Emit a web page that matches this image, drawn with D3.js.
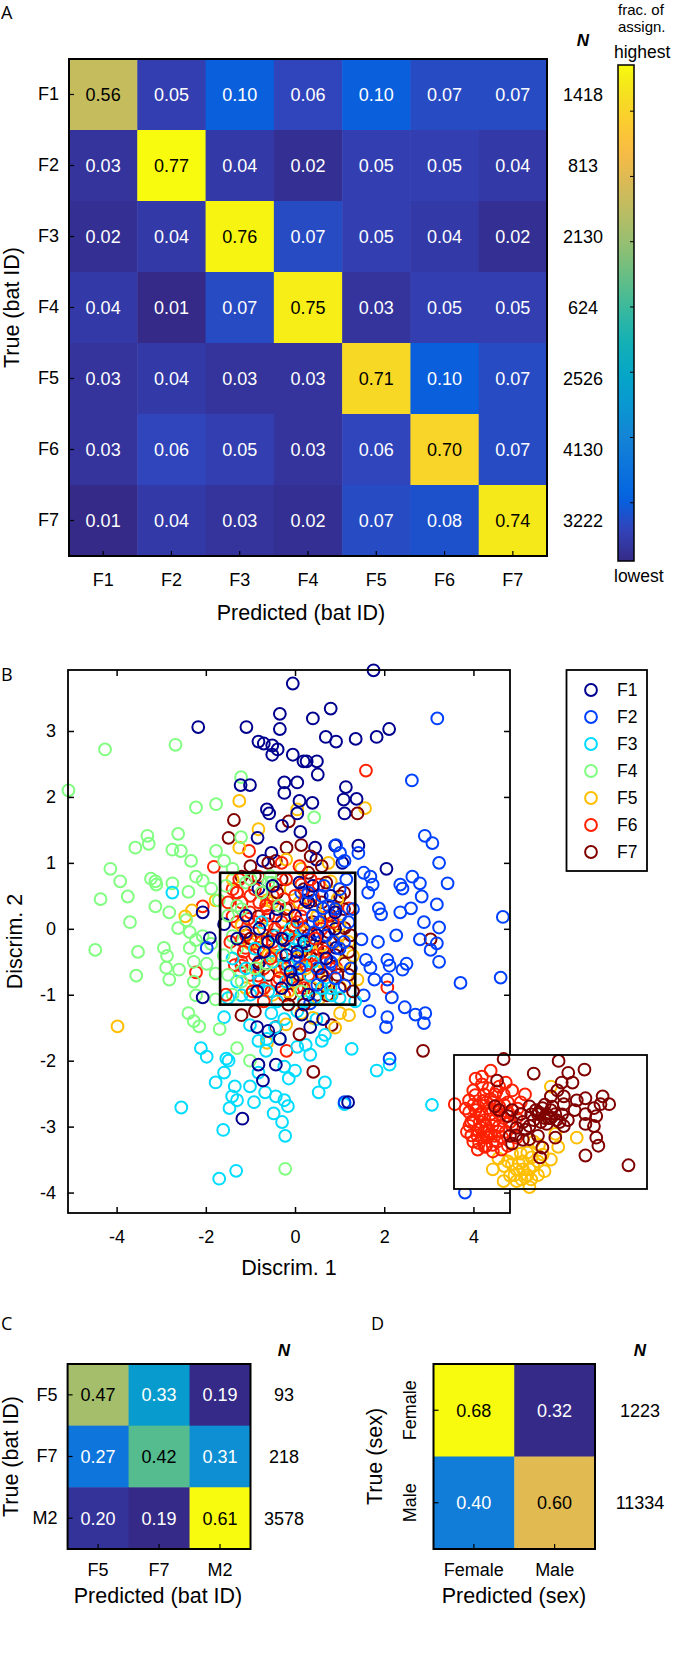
<!DOCTYPE html>
<html><head><meta charset="utf-8">
<script src="https://cdn.jsdelivr.net/npm/d3@7"></script>
<style>
body{margin:0;background:#fff}
svg{display:block}
text{font-family:"Liberation Sans",Arial,Helvetica,sans-serif;fill:#000}
</style></head>
<body><svg id="c" width="675" height="1669"></svg>
<script>
// ---------------- DATA ----------------
const batIds = ["F1","F2","F3","F4","F5","F6","F7"];
const matA = [
  [0.56,0.05,0.10,0.06,0.10,0.07,0.07],
  [0.03,0.77,0.04,0.02,0.05,0.05,0.04],
  [0.02,0.04,0.76,0.07,0.05,0.04,0.02],
  [0.04,0.01,0.07,0.75,0.03,0.05,0.05],
  [0.03,0.04,0.03,0.03,0.71,0.10,0.07],
  [0.03,0.06,0.05,0.03,0.06,0.70,0.07],
  [0.01,0.04,0.03,0.02,0.07,0.08,0.74]
];
const nA = [1418,813,2130,624,2526,4130,3222];

const idsC = ["F5","F7","M2"];
const matC = [[0.47,0.33,0.19],[0.27,0.42,0.31],[0.20,0.19,0.61]];
const nC = [93,218,3578];

const sexes = ["Female","Male"];
const matD = [[0.68,0.32],[0.40,0.60]];
const nD = [1223,11334];

const bTicksX = [-4,-2,0,2,4];
const bTicksY = [-4,-3,-2,-1,0,1,2,3];
const cbTicks = [0.1,0.2,0.3,0.4,0.5,0.6,0.7];
const classColors = ["#00008f","#0040ff","#00dcff","#80ff80","#ffbf00","#ff2000","#800000"];

const ptsF1 = [[1.76,3.92],[-0.05,3.72],[-2.17,3.06],[-1.09,3.06],[-0.34,3.26],[-0.34,3.03],[0.40,3.19],[0.80,3.34],[0.69,2.91],[0.92,2.84],[1.36,2.88],[1.83,2.91],[2.11,3.03],[-0.82,2.84],[-0.70,2.81],[-0.51,2.78],[-0.39,2.72],[-0.51,2.64],[-0.05,2.64],[0.19,2.54],[0.26,2.54],[0.49,2.54],[0.51,2.34],[-1.22,2.18],[-1.01,2.18],[-0.24,2.22],[0.05,2.22],[-0.24,2.06],[1.14,2.15],[1.09,1.96],[1.38,1.97],[1.11,1.75],[0.39,1.91],[0.10,1.94],[0.05,1.75],[-0.63,1.81],[-0.58,1.75],[-0.29,1.56],[0.12,1.47],[-0.84,1.38],[-0.53,1.15],[-0.72,1.03],[0.45,1.23],[0.90,1.26],[1.42,1.26],[0.48,1.05],[1.06,1.00],[2.05,0.91],[-2.07,0.25],[-1.91,-0.14],[-1.59,0.07],[-0.82,0.61],[-0.43,0.19],[0.24,0.43],[0.34,-0.17],[0.67,-0.11],[0.92,-0.29],[-1.11,-0.05],[-0.24,-0.17],[-0.82,-0.53],[-2.07,-1.04],[-0.85,-1.49],[0.34,-1.49],[-0.34,-1.67],[-0.82,-2.06],[-0.43,-2.06],[-0.72,-2.30],[-1.18,-2.88],[1.19,-2.63],[-0.05,-0.77],[0.63,-1.37],[-0.4,0.3],[0.0,0.2],[0.3,0.4],[-0.6,-0.2],[0.5,-0.1],[-0.2,-0.4],[0.8,0.5],[0.2,-0.2],[-0.8,0.0],[0.6,-0.7],[-0.3,-0.9],[0.9,0.0],[0.1,0.7],[-1.1,0.2],[-0.7,-0.35],[-0.3,-0.15],[0.05,-0.35],[0.4,0.65],[0.7,-0.45],[-0.5,0.65],[-1.3,-0.15],[0.9,0.25],[-0.1,-0.65],[0.3,-1.0],[-0.85,-0.95],[0.15,-1.3],[-0.6,-1.55]];
const ptsF2 = [[3.19,3.19],[2.62,2.25],[2.91,1.41],[3.08,1.30],[3.23,1.00],[3.42,0.69],[2.80,0.69],[2.36,0.67],[2.41,0.61],[2.63,0.79],[2.84,0.49],[3.18,0.37],[1.88,0.31],[1.93,0.22],[2.36,0.25],[2.60,0.31],[2.89,0.10],[3.23,0.02],[2.27,-0.10],[2.80,-0.16],[3.18,-0.22],[3.04,-0.32],[1.86,-0.20],[3.23,-0.50],[1.49,-0.16],[1.59,-0.47],[1.69,-0.59],[2.07,-0.47],[2.12,-0.56],[2.50,-0.53],[2.41,-0.62],[2.07,-0.77],[3.71,-0.82],[4.61,-0.74],[4.66,0.18],[1.54,-1.01],[2.17,-1.04],[2.46,-1.19],[2.70,-1.30],[2.92,-1.28],[2.89,-1.43],[2.07,-1.34],[2.04,-1.49],[1.67,-1.25],[2.12,-1.97],[3.81,-4.00],[0.92,1.27],[1.01,1.15],[1.42,1.15],[1.11,1.03],[1.54,0.85],[1.69,0.79],[1.74,0.67],[1.64,0.55],[0.14,0.55],[0.63,0.31],[1.01,0.19],[0.43,-0.05],[0.82,-0.53],[0.05,-0.41],[1.11,-0.86],[0.34,-1.13],[-1.98,-0.29],[1.11,-2.63],[1.78,-0.77],[0.4,0.2],[0.7,-0.1],[0.9,0.3],[1.1,-0.2],[0.6,0.5],[0.2,0.0],[0.8,-0.5],[1.2,0.1],[0.5,-0.6],[0.0,-0.5],[1.0,0.6],[0.3,0.55],[0.55,0.1],[0.75,0.35],[1.0,-0.3],[1.15,0.75],[1.3,0.3],[0.9,-0.75],[0.5,-0.85],[0.1,-0.6],[0.65,0.65],[1.25,-0.6],[0.85,-0.2]];
const ptsF3 = [[-2.55,-2.71],[-2.11,-1.81],[-1.98,-1.94],[-1.54,-1.97],[-1.49,-2.00],[-1.78,-2.33],[-1.59,-2.18],[-1.35,-2.39],[-1.41,-2.54],[-1.47,-2.72],[-1.30,-2.60],[-1.61,-3.05],[-0.92,-2.63],[-0.67,-2.48],[-0.43,-2.54],[-0.24,-2.60],[-0.16,-2.69],[-0.48,-2.80],[-0.29,-2.93],[-0.22,-3.14],[-1.01,-2.39],[-0.82,-2.18],[-0.24,-2.09],[0.00,-2.15],[-0.14,-2.27],[0.53,-2.48],[0.67,-2.33],[1.11,-2.66],[1.27,-1.82],[1.83,-2.15],[2.12,-2.06],[3.07,-2.67],[-1.70,-3.79],[-1.32,-3.67],[-0.82,-1.70],[-0.63,-1.67],[-0.34,-1.67],[0.05,-1.79],[0.24,-1.76],[0.34,-1.91],[0.67,-1.61],[-1.01,-1.46],[-0.53,-1.28],[-0.24,-1.37],[0.05,-1.25],[0.48,-1.37],[-0.43,-0.11],[-0.24,-0.23],[0.05,-0.44],[0.14,-0.59],[0.34,-0.71],[-0.82,-0.77],[-1.20,-1.01],[-1.59,-1.34],[1.35,-1.10],[0.82,-1.01],[-2.75,0.55],[-0.5,-0.5],[-0.2,-0.8],[0.1,-0.2],[0.4,-0.5],[-0.8,-0.8],[-1.0,-1.0],[0.2,-1.1],[-0.4,-1.1],[0.6,-0.9],[-0.1,0.0],[-1.3,-0.8],[0.8,-0.9],[-1.4,-0.45],[-1.1,-0.6],[-0.6,-0.95],[-0.3,-0.4],[0.0,-0.15],[0.25,-0.25],[-0.15,-0.55],[-0.9,-0.3],[0.45,-1.05],[-1.5,-1.05],[-0.75,0.1],[1.0,-1.05],[-0.45,-1.5],[0.6,-1.7],[-0.65,-1.85]];
const ptsF4 = [[-5.08,2.10],[-4.26,2.72],[-2.68,2.79],[-2.22,1.84],[-1.77,1.89],[-1.21,2.30],[-3.31,1.41],[-3.28,1.29],[-3.58,1.23],[-2.62,1.44],[-2.75,1.20],[-2.56,1.18],[-2.33,1.03],[-1.77,1.18],[-1.59,1.03],[-4.14,0.91],[-3.92,0.72],[-4.36,0.45],[-3.75,0.49],[-3.23,0.76],[-3.13,0.72],[-3.11,0.67],[-2.75,0.69],[-2.39,0.56],[-2.22,0.79],[-2.07,0.73],[-1.88,0.61],[-1.71,0.43],[-3.13,0.34],[-2.82,0.25],[-3.70,0.10],[-2.62,0.01],[-2.44,0.13],[-2.36,-0.05],[-2.22,-0.17],[-4.48,-0.32],[-3.52,-0.35],[-2.94,-0.29],[-2.87,-0.41],[-2.36,-0.29],[-2.07,-0.11],[-1.88,-0.23],[-2.89,-0.59],[-2.60,-0.62],[-2.27,-0.50],[-1.98,-0.53],[-3.56,-0.71],[-2.82,-0.77],[-2.27,-0.80],[-1.78,-0.68],[-2.22,-1.01],[-1.78,-1.07],[-2.39,-1.28],[-2.27,-1.40],[-2.15,-1.48],[-1.69,-1.52],[-1.30,-1.81],[-1.01,-2.00],[-0.22,-3.64],[-0.53,0.70],[0.43,1.69],[-1.40,0.91],[-1.21,1.39],[-1.40,-0.11],[-1.21,-0.65],[-0.63,-0.53],[0.14,-0.95],[-1.5,0.2],[-1.3,-0.3],[-1.5,-0.7],[-1.1,0.7],[-0.9,-0.6],[-0.6,0.7],[-1.4,-1.0],[-1.2,0.3],[-1.55,0.65],[-1.3,0.35],[-1.0,0.75],[-0.75,0.55],[-1.6,-0.4],[-0.35,0.35],[-1.2,-0.8],[-0.55,0.8]];
const ptsF5 = [[-3.98,-1.48],[-1.25,1.94],[1.57,1.83],[0.05,1.81],[-0.82,1.51],[-1.25,1.23],[0.80,0.72],[-2.46,0.19],[-2.31,0.28],[-0.63,0.43],[0.14,0.91],[-0.24,-0.05],[0.72,0.07],[0.05,-0.71],[0.53,-0.65],[1.01,-0.89],[1.21,-1.31],[1.01,-1.28],[0.14,-1.28],[-0.63,-1.73],[0.53,-1.07],[-0.53,-0.41],[1.30,-0.41],[-1.01,-0.23],[1.40,-0.77],[-1.78,0.43],[-0.9,-0.2],[-0.6,-0.4],[-0.3,-0.6],[0.0,-0.8],[0.3,-0.3],[0.6,-0.5],[0.9,-0.2],[-0.2,0.2],[0.1,0.4],[-0.7,0.0],[0.4,-0.9],[0.8,-1.0],[-1.1,-0.9],[1.1,-0.5],[0.0,0.0],[-0.5,-1.0],[0.5,0.2],[-1.2,0.05],[-0.85,-0.6],[-0.4,-0.25],[-0.1,0.6],[0.2,-0.05],[0.45,0.35],[0.7,-0.85],[1.0,0.05],[1.2,-0.2],[-0.5,0.4],[0.25,-0.6],[-0.15,-0.95],[0.6,-0.25],[0.95,0.45],[-1.4,0.75],[0.05,-0.45],[0.4,-1.35],[0.9,-1.5],[-0.2,-1.45],[-0.2,1.05],[0.75,1.0]];
const ptsF6 = [[1.59,2.40],[-1.03,1.18],[-1.82,0.94],[-2.07,0.34],[-2.22,-0.66],[-0.82,0.79],[-1.30,0.55],[-1.01,0.25],[-1.20,-0.17],[-0.63,0.07],[-0.82,-0.29],[-0.43,-0.41],[-0.34,-0.65],[-0.82,-0.71],[0.14,-0.11],[0.34,0.07],[0.72,-0.29],[0.92,-0.59],[-0.14,0.31],[-0.43,0.67],[0.14,0.67],[0.53,0.67],[1.21,0.31],[0.05,-0.89],[-0.24,-1.01],[2.07,-0.89],[-1.11,-0.29],[-0.63,0.31],[-0.43,-0.29],[0.34,-0.41],[0.63,-0.71],[-1.20,-0.56],[0.14,0.19],[-0.53,-0.95],[0.72,0.19],[-0.19,-1.85],[-1.40,0.19],[-1.4,0.6],[-1.2,0.4],[-1.0,0.5],[-0.8,0.4],[-1.3,0.1],[-1.1,-0.1],[-0.9,-0.4],[-0.7,-0.6],[-0.5,-0.2],[-0.3,0.1],[-0.1,-0.3],[0.1,-0.5],[0.3,-0.7],[0.5,-0.4],[0.2,0.3],[-0.6,0.2],[-0.4,-0.8],[-1.0,-0.7],[-1.2,-0.5],[0.0,0.5],[0.6,0.0],[-0.2,-0.6],[0.4,0.5],[-0.9,0.1],[-0.5,0.5],[0.8,-0.6],[-0.7,-0.9],[0.2,-0.9],[-1.5,0.4],[-1.45,-0.2],[-1.35,-0.55],[-1.25,0.75],[-1.15,-0.35],[-1.05,0.15],[-0.95,-0.95],[-0.9,0.6],[-0.75,-0.2],[-0.65,0.35],[-0.55,-0.45],[-0.45,0.0],[-0.35,-0.75],[-0.25,0.45],[-0.15,-0.1],[0.05,0.1],[0.25,-0.55],[0.45,-0.15],[0.65,-0.35],[0.85,0.1],[-1.55,-1.0],[-0.7,-1.1],[-1.3,0.55],[-0.2,0.75],[0.35,0.75],[-0.3,1.0],[0.1,0.95]];
const ptsF7 = [[-1.37,1.65],[-1.49,1.38],[-0.19,1.23],[1.40,1.75],[0.41,-2.17],[2.87,-1.85],[3.04,-0.16],[-1.20,-1.31],[-0.43,-1.49],[0.82,-1.46],[-0.05,-0.77],[1.01,0.49],[0.92,0.31],[1.11,0.01],[-1.20,0.79],[-0.72,0.55],[-0.43,1.03],[0.43,0.43],[0.24,-0.41],[-0.63,-0.17],[-0.24,-0.53],[0.63,-0.29],[1.11,-0.53],[0.34,-0.89],[-0.82,0.19],[0.72,-1.01],[0.14,1.27],[-0.14,1.63],[0.6,0.4],[0.8,0.2],[1.0,-0.1],[0.5,-0.3],[0.3,-0.1],[0.0,-0.2],[-0.3,-0.4],[0.9,-0.4],[0.7,-0.8],[1.2,-0.7],[0.4,0.1],[-0.2,0.3],[-0.5,-0.1],[0.1,-0.7],[1.1,0.3],[0.5,-1.0],[-0.8,-0.5],[0.2,0.6],[1.0,-0.9],[-0.1,-1.0],[-0.9,0.8],[-0.3,0.75],[0.3,0.85],[0.7,0.7],[1.1,0.55],[1.25,-0.1],[1.2,-0.35],[0.95,-0.7],[0.55,-0.6],[0.15,-0.35],[-0.05,0.05],[-0.6,-0.7],[-1.0,-0.15],[0.75,-0.05],[1.3,-0.95],[0.2,-1.15],[-0.4,0.55],[0.6,0.95],[-0.15,-1.15],[0.1,-1.6],[-0.9,-1.25],[-0.6,1.0],[0.35,1.1],[-1.0,0.95]];

// inset (separate discriminant space, own units)
const insetF5 = [[2.01,1.03],[2.57,0.41],[3.24,1.03],[3.57,1.44],[3.91,0.10],[3.01,1.85],[3.46,1.85],[3.91,1.03],[4.35,0.72],[4.35,1.44],[5.02,1.54],[4.69,0.93],[3.68,0.62],[3.24,0.41],[6.36,2.68],[5.25,2.88],[5.02,5.35],[4.13,2.47],[2.79,1.44],[3.57,1.03],[4.02,1.65],[3.35,1.34],[3.80,0.72],[3.13,0.72],[2.3,1.6],[2.6,1.2],[3.0,1.3],[3.8,1.9],[4.1,1.2],[4.6,1.8],[2.9,0.7],[3.5,0.5],[4.0,0.5],[4.4,2.3],[5.4,2.2]];
const insetF6 = [[1.90,6.18],[1.45,5.46],[1.00,5.15],[0.78,4.63],[0.04,4.43],[0.78,4.01],[1.00,3.60],[1.23,3.09],[1.00,2.47],[1.23,2.06],[1.45,2.68],[1.67,3.29],[1.90,3.91],[1.67,4.53],[2.12,4.94],[2.34,5.35],[2.57,4.94],[2.79,4.53],[3.01,5.15],[2.68,5.56],[1.56,4.94],[1.90,2.88],[2.23,2.47],[2.34,3.29],[2.68,2.99],[2.57,3.71],[2.12,3.60],[1.45,3.91],[1.79,4.22],[1.23,4.32],[3.01,3.29],[3.24,3.71],[3.46,4.53],[3.68,4.94],[1.45,5.87],[1.12,5.76],[2.01,1.96],[1.67,2.26],[2.46,2.06],[2.79,2.26],[0.89,3.50],[1.34,3.50],[1.12,4.12],[2.01,4.53],[2.34,4.32],[1.56,2.99],[2.12,2.78],[1.79,5.25],[0.67,2.99],[3.24,2.68],[0.9,2.8],[1.3,2.4],[1.7,2.7],[2.0,3.3],[2.4,3.9],[1.6,3.6],[1.3,3.9],[1.0,4.4],[1.5,4.6],[2.2,4.1],[2.8,4.0],[2.5,2.7],[1.8,3.0],[2.0,2.3],[1.4,3.2],[2.3,3.0],[1.9,4.7],[2.6,4.4],[1.2,2.8],[0.8,3.3],[2.9,3.5],[1.6,2.2],[2.2,5.1],[3.3,4.2],[0.6,4.2],[1.1,4.9]];
const insetF7 = [[2.57,6.79],[2.23,5.66],[4.13,6.03],[5.42,6.69],[6.76,6.24],[5.92,6.07],[5.58,5.56],[6.14,5.56],[5.36,5.15],[5.69,4.84],[5.02,4.84],[6.36,4.63],[6.81,4.74],[7.70,4.84],[7.59,4.43],[8.04,4.43],[7.25,4.22],[6.81,3.91],[7.37,3.81],[6.25,4.12],[5.69,4.43],[5.02,4.12],[4.58,4.22],[4.35,3.91],[4.69,3.71],[5.25,3.91],[5.47,3.50],[4.80,3.40],[4.13,3.60],[3.91,3.29],[3.57,3.50],[3.24,3.19],[3.01,4.12],[2.79,3.81],[2.34,4.12],[2.12,4.32],[2.90,2.78],[3.01,2.37],[3.57,2.57],[4.35,2.78],[4.58,2.16],[4.46,1.65],[5.25,2.68],[5.69,3.29],[6.81,3.40],[7.25,3.29],[7.37,2.68],[7.48,2.26],[6.81,1.75],[9.04,1.24],[3.91,4.32],[3.46,3.91],[4.80,3.91],[4.24,4.12],[5.02,3.71],[4.5,3.5],[4.9,3.7],[5.3,3.6],[4.4,4.0],[4.0,3.9],[5.1,4.3],[4.7,4.4],[3.7,3.1],[5.6,3.9],[3.2,2.8],[3.9,2.6],[5.9,3.6]];

// ---------------- COLORMAP (parula) ----------------
const parulaRGB = [[0.2081,0.1663,0.5292],[0.1959,0.2645,0.7279],[0.0117,0.3875,0.8820],[0.0498,0.4586,0.8641],[0.0793,0.5200,0.8312],[0.0343,0.5966,0.8199],[0.0228,0.6535,0.7768],[0.0843,0.6928,0.7062],[0.2178,0.7250,0.6193],[0.3953,0.7459,0.5244],[0.5709,0.7485,0.4494],[0.7184,0.7411,0.3905],[0.8507,0.7299,0.3360],[0.9739,0.7314,0.2666],[0.9880,0.8066,0.1794],[0.9626,0.8705,0.1309],[0.9661,0.9514,0.0755],[0.9763,0.9831,0.0538]];
const parulaPos = [0,4,8,12,16,20,24,28,32,36,40,44,48,52,56,59,62,63].map(i=>i/63);
const parula = d3.scaleLinear().domain(parulaPos)
  .range(parulaRGB.map(c=>d3.rgb(c[0]*255,c[1]*255,c[2]*255).toString()))
  .interpolate(d3.interpolateRgb).clamp(true);

const svg = d3.select("#c");
const FS = 18, TFS = 21.5, MR = 5.9, MSW = 2;

function panelLabel(t,x,y){
  svg.append("text").attr("x",x).attr("y",y).text(t)
    .style("font-family","'Open Sans',sans-serif").style("font-size","18px");
}

function heatmap(o){
  const g = svg.append("g");
  const sx = d3.scaleBand().domain(o.cols).range([o.x0,o.x1]);
  const sy = d3.scaleBand().domain(o.rows).range([o.y0,o.y1]);
  const vals = o.values.flat();
  const vmin = d3.min(vals), vmax = d3.max(vals);
  const norm = d3.scaleLinear().domain([vmin,vmax]).range([0,1]);
  o.rows.forEach((r,i)=>{
    o.cols.forEach((c,j)=>{
      const v = o.values[i][j];
      g.append("rect").attr("x",sx(c)).attr("y",sy(r))
        .attr("width",sx.bandwidth()+0.5).attr("height",sy.bandwidth()+0.5)
        .attr("fill",parula(norm(v)));
      g.append("text").attr("x",sx(c)+sx.bandwidth()/2).attr("y",sy(r)+sy.bandwidth()/2)
        .attr("dy","0.36em").attr("text-anchor","middle")
        .style("font-size",FS+"px").style("fill",norm(v)>0.5?"#000":"#fff")
        .text(v.toFixed(2));
    });
  });
  g.append("rect").attr("x",o.x0).attr("y",o.y0).attr("width",o.x1-o.x0).attr("height",o.y1-o.y0)
    .attr("fill","none").attr("stroke","#000").attr("stroke-width",2);
  const ax = g.append("g").attr("transform",`translate(0,${o.y1})`)
    .call(d3.axisBottom(sx).tickSize(-5).tickPadding(o.xPad));
  ax.select(".domain").remove();
  ax.selectAll("text").style("font-size",FS+"px");
  const ay = g.append("g").attr("transform",`translate(${o.x0},0)`)
    .call(d3.axisLeft(sy).tickSize(-5).tickPadding(o.yPad));
  ay.select(".domain").remove();
  ay.selectAll("text").style("font-size",FS+"px");
  if(o.rotateRows){
    ay.selectAll("text").remove();
    o.rows.forEach(r=>{
      g.append("text").attr("transform",`translate(${o.rowLabelX},${sy(r)+sy.bandwidth()/2}) rotate(-90)`)
        .attr("text-anchor","middle").style("font-size",FS+"px").text(r);
    });
  }
  g.selectAll(".tick line").attr("stroke","#000").attr("stroke-width",1.2);
  g.append("text").attr("x",o.nX).attr("y",o.nHeaderY).attr("text-anchor","middle")
    .style("font-size","17px").style("font-weight","bold").style("font-style","italic").text("N");
  o.rows.forEach((r,i)=>{
    g.append("text").attr("x",o.nX).attr("y",sy(r)+sy.bandwidth()/2).attr("dy","0.36em")
      .attr("text-anchor","middle").style("font-size",FS+"px").text(o.N[i]);
  });
  g.append("text").attr("x",o.xTitleX).attr("y",o.xTitleY).attr("text-anchor","middle")
    .style("font-size",TFS+"px").text(o.xTitle);
  g.append("text").attr("transform",`translate(${o.yTitleX},${(o.y0+o.y1)/2}) rotate(-90)`)
    .attr("text-anchor","middle").attr("dy","0.36em").style("font-size",TFS+"px").text(o.yTitle);
  return {vmin,vmax};
}

// ---------------- PANEL A ----------------
panelLabel("A",1,19);
const rA = heatmap({rows:batIds, cols:batIds, values:matA, N:nA,
  x0:69,x1:547,y0:59,y1:556, xPad:17, yPad:10,
  nX:583, nHeaderY:46, xTitle:"Predicted (bat ID)", xTitleX:301, xTitleY:620,
  yTitle:"True (bat ID)", yTitleX:11});

// colorbar
const cb = {x0:618,x1:634,y0:65,y1:561};
const defs = svg.append("defs");
const grad = defs.append("linearGradient").attr("id","cbg").attr("x1",0).attr("y1",1).attr("x2",0).attr("y2",0);
d3.range(0,1.0001,0.02).forEach(t=>grad.append("stop").attr("offset",t).attr("stop-color",parula(t)));
svg.append("rect").attr("x",cb.x0).attr("y",cb.y0).attr("width",cb.x1-cb.x0).attr("height",cb.y1-cb.y0)
  .attr("fill","url(#cbg)").attr("stroke","#000").attr("stroke-width",1.5);
const cbScale = d3.scaleLinear().domain([rA.vmin,rA.vmax]).range([cb.y1,cb.y0]);
const cbAx = svg.append("g").attr("transform",`translate(${cb.x1},0)`)
  .call(d3.axisRight(cbScale).tickValues(cbTicks).tickSize(-4).tickFormat(""));
cbAx.select(".domain").remove();
cbAx.selectAll("line").attr("stroke","#000");
svg.append("text").attr("x",618).attr("y",15).style("font-size","15px").text("frac. of");
svg.append("text").attr("x",618).attr("y",32).style("font-size","15px").text("assign.");
svg.append("text").attr("x",614).attr("y",58).style("font-size","17.5px").text("highest");
svg.append("text").attr("x",614).attr("y",582).style("font-size","17.5px").text("lowest");

// ---------------- PANEL B ----------------
panelLabel("B",1,681);
const B = {x0:68,x1:510,y0:670,y1:1213};
const bx = d3.scaleLinear().domain([-5.09,4.82]).range([B.x0,B.x1]);
const by = d3.scaleLinear().domain([-4.31,3.925]).range([B.y1,B.y0]);
const gB = svg.append("g");
const allPts = [ptsF1,ptsF2,ptsF3,ptsF4,ptsF5,ptsF6,ptsF7];
const maxLen = d3.max(allPts,a=>a.length);
const drawList = [];
for(let i=0;i<maxLen;i++){
  [3,2,1,0,4,5,6].forEach(k=>{ if(i<allPts[k].length) drawList.push({p:allPts[k][i],k}); });
}
gB.selectAll("circle.pt").data(drawList).join("circle").attr("class","pt")
  .attr("cx",d=>bx(d.p[0])).attr("cy",d=>by(d.p[1])).attr("r",MR)
  .attr("fill","none").attr("stroke",d=>classColors[d.k]).attr("stroke-width",MSW);
gB.append("rect").attr("x",bx(-1.68)).attr("y",by(0.85))
  .attr("width",bx(1.35)-bx(-1.68)).attr("height",by(-1.15)-by(0.85))
  .attr("fill","none").attr("stroke","#000").attr("stroke-width",2.6);
gB.append("rect").attr("x",B.x0).attr("y",B.y0).attr("width",B.x1-B.x0).attr("height",B.y1-B.y0)
  .attr("fill","none").attr("stroke","#000").attr("stroke-width",1.8);
const axB = gB.append("g").attr("transform",`translate(0,${B.y1})`)
  .call(d3.axisBottom(bx).tickValues(bTicksX).tickSize(-6).tickPadding(17).tickFormat(d3.format("d")));
const axT = gB.append("g").attr("transform",`translate(0,${B.y0})`)
  .call(d3.axisTop(bx).tickValues(bTicksX).tickSize(-6).tickFormat(""));
const axL = gB.append("g").attr("transform",`translate(${B.x0},0)`)
  .call(d3.axisLeft(by).tickValues(bTicksY).tickSize(-6).tickPadding(12).tickFormat(d3.format("d")));
const axR = gB.append("g").attr("transform",`translate(${B.x1},0)`)
  .call(d3.axisRight(by).tickValues(bTicksY).tickSize(-6).tickFormat(""));
[axB,axT,axL,axR].forEach(a=>{a.select(".domain").remove();a.selectAll("line").attr("stroke","#000").attr("stroke-width",1.5);a.selectAll("text").style("font-size","18px");});
axB.selectAll("text").text(d=>d<0?"-"+Math.abs(d):d);
axL.selectAll("text").text(d=>d<0?"-"+Math.abs(d):d);
svg.append("text").attr("x",(B.x0+B.x1)/2).attr("y",1275).attr("text-anchor","middle").style("font-size",TFS+"px").text("Discrim. 1");
svg.append("text").attr("transform",`translate(14,${(B.y0+B.y1)/2}) rotate(-90)`).attr("text-anchor","middle").attr("dy","0.36em").style("font-size",TFS+"px").text("Discrim. 2");

// inset
const I = {x0:454,x1:647,y0:1055,y1:1189};
const ix = d3.scaleLinear().domain([0,10]).range([I.x0,I.x1]);
const iy = d3.scaleLinear().domain([0,7]).range([I.y1,I.y0]);
const gI = svg.append("g");
gI.append("rect").attr("x",I.x0).attr("y",I.y0).attr("width",I.x1-I.x0).attr("height",I.y1-I.y0)
  .attr("fill","#fff").attr("stroke","none");
[[insetF5,4],[insetF6,5],[insetF7,6]].forEach(([arr,k])=>{
  gI.selectAll(null).data(arr).join("circle")
    .attr("cx",d=>ix(d[0])).attr("cy",d=>iy(d[1])).attr("r",MR)
    .attr("fill","none").attr("stroke",classColors[k]).attr("stroke-width",MSW);
});
gI.append("rect").attr("x",I.x0).attr("y",I.y0).attr("width",I.x1-I.x0).attr("height",I.y1-I.y0)
  .attr("fill","none").attr("stroke","#000").attr("stroke-width",1.8);

// legend
const L = {x0:566.5,x1:647,y0:670,y1:871};
const gL = svg.append("g");
gL.append("rect").attr("x",L.x0).attr("y",L.y0).attr("width",L.x1-L.x0).attr("height",L.y1-L.y0)
  .attr("fill","#fff").attr("stroke","#000").attr("stroke-width",1.8);
const ly = d3.scalePoint().domain(batIds).range([690,852]);
batIds.forEach((id,k)=>{
  gL.append("circle").attr("cx",591).attr("cy",ly(id)).attr("r",MR).attr("fill","none")
    .attr("stroke",classColors[k]).attr("stroke-width",MSW);
  gL.append("text").attr("x",617).attr("y",ly(id)).attr("dy","0.36em").style("font-size","17.5px").text(id);
});

// ---------------- PANEL C ----------------
panelLabel("C",1,1330);
heatmap({rows:idsC, cols:idsC, values:matC, N:nC,
  x0:67.6,x1:250.5,y0:1364,y1:1549, xPad:14, yPad:10,
  nX:284, nHeaderY:1356, xTitle:"Predicted (bat ID)", xTitleX:158, xTitleY:1603,
  yTitle:"True (bat ID)", yTitleX:10});

// ---------------- PANEL D ----------------
panelLabel("D",371,1330);
heatmap({rows:sexes, cols:sexes, values:matD, N:nD,
  x0:433.5,x1:595,y0:1364,y1:1549, xPad:14, yPad:10,
  rotateRows:true, rowLabelX:416,
  nX:640, nHeaderY:1356, xTitle:"Predicted (sex)", xTitleX:514, xTitleY:1603,
  yTitle:"True (sex)", yTitleX:374});
</script></body></html>
